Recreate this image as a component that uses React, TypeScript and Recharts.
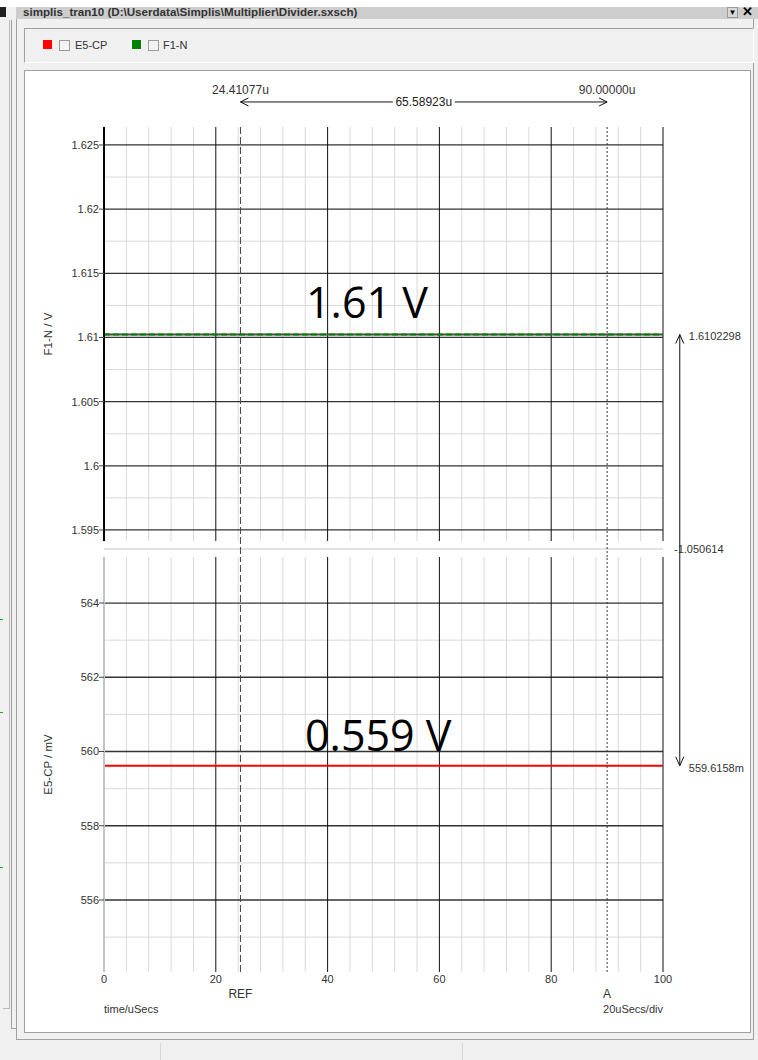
import React from "react";
import { LineChart, Line, XAxis, YAxis, ReferenceLine, ReferenceDot } from "recharts";

// sampled waveform (both traces are flat over the window)
const time = [0, 10, 20, 30, 40, 50, 60, 70, 80, 90, 100];
const f1nVolts = [1.6102298, 1.6102298, 1.6102298, 1.6102298, 1.6102298, 1.6102298, 1.6102298, 1.6102298, 1.6102298, 1.6102298, 1.6102298];
const e5cpMilliVolts = [559.6158, 559.6158, 559.6158, 559.6158, 559.6158, 559.6158, 559.6158, 559.6158, 559.6158, 559.6158, 559.6158];

const timeTicks = [0, 20, 40, 60, 80, 100];
const timeMinor = [4, 8, 12, 16, 24, 28, 32, 36, 44, 48, 52, 56, 64, 68, 72, 76, 84, 88, 92, 96];
const f1nTicks = [1.595, 1.6, 1.605, 1.61, 1.615, 1.62, 1.625];
const f1nMinor = [1.5975, 1.6025, 1.6075, 1.6125, 1.6175, 1.6225];
const e5cpTicks = [556, 558, 560, 562, 564];
const e5cpMinor = [555, 557, 559, 561, 563];

// cursors
const refCursor = 24.41077;
const aCursor = 90;
const refLabel = "24.41077u";
const aLabel = "90.00000u";
const deltaTimeLabel = "65.58923u";
const deltaValueLabel = "-1.050614";
const f1nCursorLabel = "1.6102298";
const e5cpCursorLabel = "559.6158m";

const upperDomain: [number, number] = [1.59414, 1.6264];
const lowerDomain: [number, number] = [554.06, 565.24];
// levels outside the plotted range, used for the measurement annotations
const spanLevel = 1.62835;
const separatorLevel = 1.59352;
const upperEdge = 1.59289;
const measureX = 103;

const upperData = time.map((t, i) => ({ t, v: f1nVolts[i] }));
const lowerData = time.map((t, i) => ({ t, v: e5cpMilliVolts[i] }));

const font = '"Liberation Sans", Arial, sans-serif';
const tickStyle = { fontSize: 11, fill: "#333", fontFamily: font };
const minorColor = "#d9d9d9";
const majorColor = "#333";

const spanArrow = (label: string) => (p: any) => {
  const { x1, y1, x2 } = p;
  const mid = (x1 + x2) / 2;
  const half = 31;
  return (
    <g>
      <line x1={x1} y1={y1} x2={mid - half} y2={y1} stroke="#111" />
      <line x1={mid + half} y1={y1} x2={x2} y2={y1} stroke="#111" />
      <polyline points={`${x1 + 8},${y1 - 4} ${x1},${y1} ${x1 + 8},${y1 + 4}`} fill="none" stroke="#111" />
      <polyline points={`${x2 - 8},${y1 - 4} ${x2},${y1} ${x2 - 8},${y1 + 4}`} fill="none" stroke="#111" />
      <text x={mid} y={y1 + 4} textAnchor="middle" fontSize={12} fontFamily={font} fill="#222">
        {label}
      </text>
    </g>
  );
};

// arrow head drawn at the first point of the segment
const headArrow = (p: any) => {
  const { x1, y1, x2, y2 } = p;
  const dir = y2 > y1 ? 1 : -1;
  return (
    <g>
      <line x1={x1} y1={y1} x2={x2} y2={y2} stroke="#111" />
      <polyline points={`${x1 - 4},${y1 + dir * 9} ${x1},${y1} ${x1 + 4},${y1 + dir * 9}`} fill="none" stroke="#111" />
    </g>
  );
};

const box = (s: React.CSSProperties): React.CSSProperties => ({ position: "absolute", ...s });

const Check = ({ left }: { left: number }) => (
  <div style={box({ left, top: 40, width: 9, height: 9, border: "1px solid #9a9a9a", background: "#f3f3f3" })} />
);

export default function App() {
  return (
    <div style={box({ left: 0, top: 0, width: 758, height: 1060, background: "#f0f0f0", overflow: "hidden", fontFamily: font })}>
      {/* window chrome */}
      <div style={box({ left: 0, top: 0, width: 758, height: 7, background: "#fff" })} />
      <div style={box({ left: 16, top: 7, width: 742, height: 12, background: "#cdcdcd" })} />
      <div style={box({ left: 0, top: 7, width: 6, height: 10, background: "#222" })} />
      <div style={box({ left: 23, top: 5, fontSize: 11.6, fontWeight: "bold", color: "#333", whiteSpace: "nowrap" })}>
        simplis_tran10 (D:\Userdata\Simplis\Multiplier\Divider.sxsch)
      </div>
      <div style={box({ left: 727, top: 7, width: 11, height: 11, background: "#d8d8d8", border: "1px solid #999", boxSizing: "border-box", fontSize: 8, lineHeight: "10px", textAlign: "center" })}>▼</div>
      <div style={box({ left: 740, top: 6, width: 14, height: 12, fontSize: 13, fontWeight: "bold", lineHeight: "12px", textAlign: "center" })}>✕</div>
      <div style={box({ left: 3, top: 20, width: 6, height: 988, borderRight: "1px solid #bbb", borderBottom: "1px solid #bbb" })} />
      <div style={box({ left: 11, top: 20, width: 4, height: 1008, borderLeft: "1px solid #a0a0a0", borderRight: "1px solid #a0a0a0", borderBottom: "1px solid #a0a0a0" })} />
      <div style={box({ left: 0, top: 619, width: 3, height: 1, background: "#2a2" })} />
      <div style={box({ left: 0, top: 712, width: 3, height: 1, background: "#2a2" })} />
      <div style={box({ left: 0, top: 867, width: 3, height: 1, background: "#2a2" })} />
      <div style={box({ left: 16, top: 19, width: 738, height: 1021, borderLeft: "1px solid #a0a0a0", borderRight: "1px solid #a0a0a0", borderBottom: "1px solid #a0a0a0", boxSizing: "border-box" })} />
      <div style={box({ left: 160, top: 1043, width: 1, height: 17, background: "#d6d6d6" })} />
      <div style={box({ left: 462, top: 1043, width: 1, height: 17, background: "#d6d6d6" })} />

      {/* legend */}
      <div style={box({ left: 24, top: 28, width: 730, height: 35, borderTop: "1px solid #a0a0a0", borderLeft: "1px solid #a0a0a0", borderRight: "1px solid #fff", borderBottom: "1px solid #fff", boxSizing: "border-box" })} />
      <div style={box({ left: 43, top: 40, width: 9, height: 9, background: "#ff0000" })} />
      <Check left={59} />
      <div style={box({ left: 75, top: 39, fontSize: 11, color: "#333" })}>E5-CP</div>
      <div style={box({ left: 132, top: 40, width: 9, height: 9, background: "#008000" })} />
      <Check left={148} />
      <div style={box({ left: 163, top: 39, fontSize: 11, color: "#333" })}>F1-N</div>

      {/* plot panel */}
      <div style={box({ left: 24, top: 70, width: 727, height: 963, background: "#fff", border: "1px solid #a0a0a0", boxSizing: "border-box" })} />

      <div style={box({ left: 0, top: 70 })}>
        <LineChart width={758} height={487} data={upperData} margin={{ top: 57, right: 95, bottom: 16, left: 24 }}>
          <XAxis dataKey="t" type="number" domain={[0, 100]} hide allowDataOverflow />
          <YAxis
            type="number"
            width={80}
            domain={upperDomain}
            ticks={f1nTicks}
            allowDataOverflow
            tick={tickStyle}
            tickSize={5}
            tickMargin={0}
            tickLine={{ stroke: "#444" }}
            axisLine={{ stroke: "#000", strokeWidth: 2 }}
            label={{ value: "F1-N / V", angle: -90, position: "insideLeft", offset: 24, style: { textAnchor: "middle", fontSize: 11.5, fill: "#333", fontFamily: font } }}
          />
          {timeMinor.map((x) => (
            <ReferenceLine key={"vx" + x} x={x} stroke={minorColor} />
          ))}
          {f1nMinor.map((y) => (
            <ReferenceLine key={"hy" + y} y={y} stroke={minorColor} />
          ))}
          {f1nTicks.map((y) => (
            <ReferenceLine key={"Hy" + y} y={y} stroke={majorColor} strokeWidth={1.3} />
          ))}
          {timeTicks.slice(1).map((x) => (
            <ReferenceLine key={"Vx" + x} x={x} stroke="#111" />
          ))}
          <ReferenceLine
            y={separatorLevel}
            ifOverflow="visible"
            stroke="#e2e2e2"
            strokeWidth={2}
            label={{ value: deltaValueLabel, position: "right", offset: 11, style: tickStyle }}
          />
          <ReferenceLine
            segment={[{ x: refCursor, y: upperDomain[1] }, { x: refCursor, y: upperEdge }]}
            ifOverflow="visible"
            stroke="#444"
            strokeDasharray="7 3"
            label={{ value: refLabel, position: "top", offset: 33, style: { ...tickStyle, fontSize: 12 } }}
          />
          <ReferenceLine
            segment={[{ x: aCursor, y: upperDomain[1] }, { x: aCursor, y: upperEdge }]}
            ifOverflow="visible"
            stroke="#333"
            strokeDasharray="2 2"
            label={{ value: aLabel, position: "top", offset: 33, style: { ...tickStyle, fontSize: 12 } }}
          />
          <ReferenceLine
            segment={[{ x: refCursor, y: spanLevel }, { x: aCursor, y: spanLevel }]}
            ifOverflow="visible"
            shape={spanArrow(deltaTimeLabel)}
          />
          <ReferenceLine
            segment={[{ x: measureX, y: f1nVolts[0] }, { x: measureX, y: upperEdge }]}
            ifOverflow="visible"
            shape={headArrow}
          />
          <ReferenceDot
            x={measureX}
            y={f1nVolts[0]}
            r={0}
            ifOverflow="visible"
            label={{ value: f1nCursorLabel, position: "right", offset: 9, dy: 2, style: tickStyle }}
          />
          <Line type="linear" dataKey="v" stroke="#4a4a4a" strokeWidth={2} dot={false} isAnimationActive={false} />
          <Line type="linear" dataKey="v" stroke="#008000" strokeWidth={2} strokeDasharray="6 3" dot={false} isAnimationActive={false} />
        </LineChart>
      </div>

      <div style={box({ left: 0, top: 557 })}>
        <LineChart width={758} height={503} data={lowerData} margin={{ top: 0, right: 95, bottom: 58, left: 24 }}>
          <XAxis
            dataKey="t"
            type="number"
            domain={[0, 100]}
            ticks={timeTicks}
            allowDataOverflow
            height={30}
            axisLine={false}
            tickLine={false}
            tickSize={0}
            tickMargin={3}
            tick={tickStyle}
          />
          <YAxis
            type="number"
            width={80}
            domain={lowerDomain}
            ticks={e5cpTicks}
            allowDataOverflow
            tick={tickStyle}
            tickSize={5}
            tickMargin={0}
            tickLine={{ stroke: "#444" }}
            axisLine={{ stroke: "#c4c4c4", strokeWidth: 2 }}
            label={{ value: "E5-CP / mV", angle: -90, position: "insideLeft", offset: 24, style: { textAnchor: "middle", fontSize: 11.5, fill: "#333", fontFamily: font } }}
          />
          {timeMinor.map((x) => (
            <ReferenceLine key={"vx" + x} x={x} stroke={minorColor} />
          ))}
          {e5cpMinor.map((y) => (
            <ReferenceLine key={"hy" + y} y={y} stroke={minorColor} />
          ))}
          {e5cpTicks.map((y) => (
            <ReferenceLine key={"Hy" + y} y={y} stroke={majorColor} strokeWidth={1.3} />
          ))}
          {timeTicks.slice(1).map((x) => (
            <ReferenceLine key={"Vx" + x} x={x} stroke="#111" />
          ))}
          <ReferenceLine
            x={refCursor}
            stroke="#444"
            strokeDasharray="7 3"
            label={{ value: "REF", position: "bottom", offset: 17, style: { ...tickStyle, fontSize: 12 } }}
          />
          <ReferenceLine
            x={aCursor}
            stroke="#333"
            strokeDasharray="2 2"
            label={{ value: "A", position: "bottom", offset: 17, style: { ...tickStyle, fontSize: 12 } }}
          />
          <ReferenceLine
            segment={[{ x: measureX, y: e5cpMilliVolts[0] }, { x: measureX, y: lowerDomain[1] }]}
            ifOverflow="visible"
            shape={headArrow}
          />
          <ReferenceDot
            x={measureX}
            y={e5cpMilliVolts[0]}
            r={0}
            ifOverflow="visible"
            label={{ value: e5cpCursorLabel, position: "right", offset: 9, dy: 2, style: tickStyle }}
          />
          <Line type="linear" dataKey="v" stroke="#ff0000" strokeWidth={2} dot={false} isAnimationActive={false} />
        </LineChart>
      </div>

      <div style={box({ left: 104, top: 1003, fontSize: 11, color: "#333" })}>time/uSecs</div>
      <div style={box({ left: 563, width: 100, top: 1003, fontSize: 11, color: "#333", textAlign: "right" })}>20uSecs/div</div>

      <div style={box({ left: 306, top: 274, fontSize: 43, lineHeight: "56px", fontFamily: '"Open Sans", "Noto Sans", sans-serif', color: "#000", whiteSpace: "nowrap" })}>1.61 V</div>
      <div style={box({ left: 305, top: 707, fontSize: 43, lineHeight: "56px", fontFamily: '"Open Sans", "Noto Sans", sans-serif', color: "#000", whiteSpace: "nowrap" })}>0.559 V</div>
    </div>
  );
}
